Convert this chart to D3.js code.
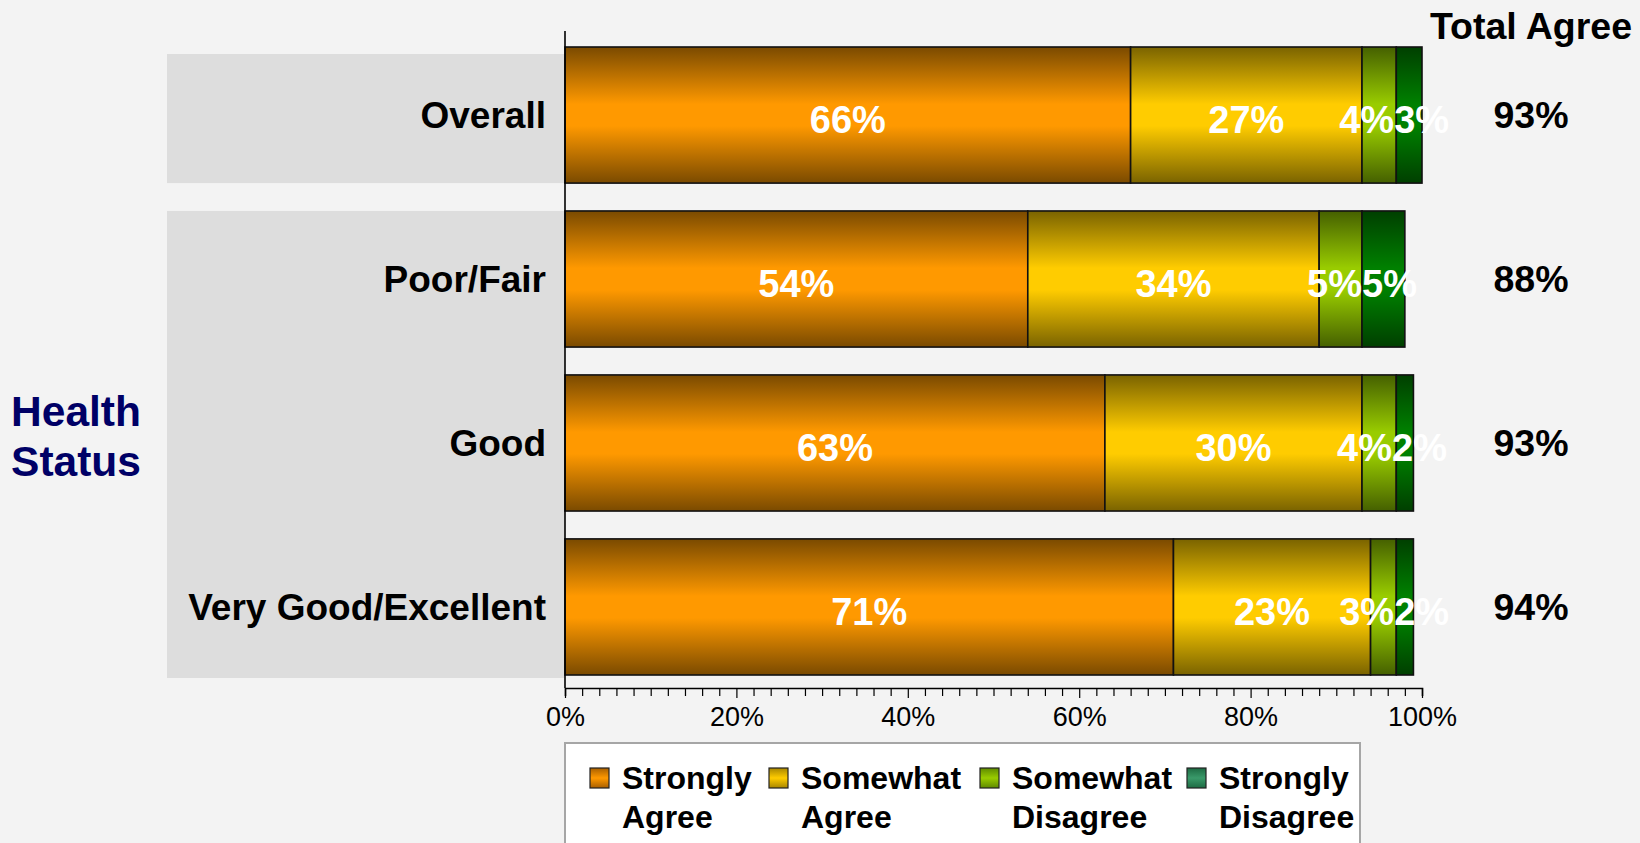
<!DOCTYPE html>
<html>
<head>
<meta charset="utf-8">
<script src="https://cdn.jsdelivr.net/npm/d3@7/dist/d3.min.js"></script>
<style>
  html, body { margin: 0; padding: 0; background: #f3f3f3; }
  svg { display: block; font-family: "Liberation Sans", Arial, sans-serif; }
</style>
</head>
<body>
<svg id="chart" width="1640" height="843"></svg>
<script>
// Agreement by self-reported health status
const categories = ["Overall", "Poor/Fair", "Good", "Very Good/Excellent"];
const seriesNames = ["Strongly Agree", "Somewhat Agree", "Somewhat Disagree", "Strongly Disagree"];
const stronglyAgree = [66, 54, 63, 71];
const somewhatAgree = [27, 34, 30, 23];
const somewhatDisagree = [4, 5, 4, 3];
const stronglyDisagree = [3, 5, 2, 2];
const totalAgree = [93, 88, 93, 94];
const xTicks = [0, 20, 40, 60, 80, 100];
const groupTitle = ["Health", "Status"];
const totalTitle = "Total Agree";
const legendLines = [["Strongly", "Agree"], ["Somewhat", "Agree"], ["Somewhat", "Disagree"], ["Strongly", "Disagree"]];
const healthGroup = ["Poor/Fair", "Good", "Very Good/Excellent"];

const rows = categories.map((c, i) => ({
  category: c,
  "Strongly Agree": stronglyAgree[i],
  "Somewhat Agree": somewhatAgree[i],
  "Somewhat Disagree": somewhatDisagree[i],
  "Strongly Disagree": stronglyDisagree[i],
  total: totalAgree[i]
}));

// bar shading: dark edges, bright middle
const palette = {
  "Strongly Agree":    { dark: "#7a4a00", mid: "#ff9900" },
  "Somewhat Agree":    { dark: "#7a6300", mid: "#ffcc00" },
  "Somewhat Disagree": { dark: "#456000", mid: "#99cc00" },
  "Strongly Disagree": { dark: "#003f00", mid: "#008000" }
};
const legendPalette = {
  "Strongly Agree":    { dark: "#a85f00", mid: "#ff9900" },
  "Somewhat Agree":    { dark: "#a88600", mid: "#ffcc00" },
  "Somewhat Disagree": { dark: "#5f8a00", mid: "#99cc00" },
  "Strongly Disagree": { dark: "#1d6b43", mid: "#3a9a6a" }
};

const svg = d3.select("#chart");
svg.append("rect").attr("width", 1640).attr("height", 843).attr("fill", "#f3f3f3");

const defs = svg.append("defs");
seriesNames.forEach((s, i) => {
  const g = defs.append("linearGradient").attr("id", "bar" + i)
    .attr("x1", 0).attr("y1", 0).attr("x2", 0).attr("y2", 1);
  g.append("stop").attr("offset", "0%").attr("stop-color", palette[s].dark);
  g.append("stop").attr("offset", "42%").attr("stop-color", palette[s].mid);
  g.append("stop").attr("offset", "58%").attr("stop-color", palette[s].mid);
  g.append("stop").attr("offset", "100%").attr("stop-color", palette[s].dark);
  const l = defs.append("linearGradient").attr("id", "leg" + i)
    .attr("x1", 0).attr("y1", 0).attr("x2", 0).attr("y2", 1);
  l.append("stop").attr("offset", "0%").attr("stop-color", legendPalette[s].dark);
  l.append("stop").attr("offset", "50%").attr("stop-color", legendPalette[s].mid);
  l.append("stop").attr("offset", "100%").attr("stop-color", legendPalette[s].dark);
});

const x = d3.scaleLinear().domain([0, 100]).range([565, 1422]);
const y = d3.scaleBand().domain(categories).range([47, 675]).paddingInner(0.17).paddingOuter(0);
const bw = y.bandwidth();

// grey label panels behind the category names
const panelLeft = 167;
svg.append("rect")
  .attr("x", panelLeft).attr("width", x(0) - panelLeft)
  .attr("y", y("Overall") + 7).attr("height", bw - 7)
  .attr("fill", "#dddddd");
svg.append("rect")
  .attr("x", panelLeft).attr("width", x(0) - panelLeft)
  .attr("y", y(healthGroup[0]))
  .attr("height", y(healthGroup[healthGroup.length - 1]) + bw + 3 - y(healthGroup[0]))
  .attr("fill", "#dddddd");

// stacked bars
const stacked = d3.stack().keys(seriesNames)(rows);
const layers = svg.append("g").selectAll("g").data(stacked).join("g")
  .attr("fill", (d, i) => `url(#bar${i})`);
layers.selectAll("rect").data(d => d).join("rect")
  .attr("x", d => x(d[0]))
  .attr("width", d => x(d[1]) - x(d[0]))
  .attr("y", d => y(d.data.category))
  .attr("height", bw)
  .attr("stroke", "#111")
  .attr("stroke-width", 1.6);

// value labels inside segments, nudged apart where neighbours collide
const labelG = svg.append("g");
categories.forEach((c, ri) => {
  const items = stacked.map(layer => {
    const d = layer[ri];
    return { v: d[1] - d[0], cx: x((d[0] + d[1]) / 2) };
  });
  const texts = items.map(it => labelG.append("text")
    .attr("text-anchor", "middle")
    .attr("x", it.cx)
    .attr("y", y(c) + bw / 2 + 5)
    .attr("dy", "0.35em")
    .attr("fill", "#ffffff")
    .attr("font-weight", "bold")
    .attr("font-size", 38)
    .text(it.v + "%"));
  items.forEach((it, i) => { it.w = texts[i].node().getComputedTextLength(); });
  for (let iter = 0; iter < 10; iter++) {
    for (let i = 0; i < items.length - 1; i++) {
      const a = items[i], b = items[i + 1];
      const overlap = (a.cx + a.w / 2) - (b.cx - b.w / 2);
      if (overlap > 0) { a.cx -= overlap / 2; b.cx += overlap / 2; }
    }
  }
  texts.forEach((t, i) => t.attr("x", items[i].cx));
});

// category names
svg.append("g").selectAll("text").data(categories).join("text")
  .attr("x", 546)
  .attr("y", d => y(d) + bw / 2)
  .attr("dy", "0.35em")
  .attr("text-anchor", "end")
  .attr("font-weight", "bold")
  .attr("font-size", 37)
  .attr("fill", "#000")
  .text(d => d);

// total agree column
svg.append("text")
  .attr("x", 1531).attr("y", 39)
  .attr("text-anchor", "middle")
  .attr("font-weight", "bold").attr("font-size", 37.5)
  .text(totalTitle);
svg.append("g").selectAll("text").data(rows).join("text")
  .attr("x", 1531)
  .attr("y", d => y(d.category) + bw / 2)
  .attr("dy", "0.35em")
  .attr("text-anchor", "middle")
  .attr("font-weight", "bold").attr("font-size", 37.5)
  .text(d => d.total + "%");

// group title
svg.append("text")
  .attr("x", 76).attr("y", 426)
  .attr("text-anchor", "middle")
  .attr("font-weight", "bold").attr("font-size", 42.5)
  .attr("fill", "#000066")
  .selectAll("tspan").data(groupTitle).join("tspan")
  .attr("x", 76).attr("dy", (d, i) => i === 0 ? 0 : 50)
  .text(d => d);

// axes
const axisY = 688;
svg.append("line")
  .attr("x1", x(0)).attr("x2", x(0)).attr("y1", 31).attr("y2", axisY)
  .attr("stroke", "#000").attr("stroke-width", 1.6);

const xAxis = d3.axisBottom(x)
  .tickValues(d3.range(0, 101, 2))
  .tickSizeOuter(0)
  .tickSize(8)
  .tickFormat(d => xTicks.includes(d) ? d + "%" : "");
const ax = svg.append("g").attr("transform", `translate(0,${axisY})`).call(xAxis);
ax.select(".domain").attr("stroke", "#000").attr("stroke-width", 1.6);
ax.selectAll(".tick line").attr("stroke", "#000").attr("stroke-width", 1.2)
  .attr("y2", d => xTicks.includes(d) ? 10 : 8);
ax.selectAll(".tick text")
  .attr("y", 38).attr("dy", 0)
  .attr("fill", "#000")
  .attr("font-size", 27)
  .attr("font-family", "\"Liberation Sans\", Arial, sans-serif");

// legend
const legend = svg.append("g");
legend.append("rect")
  .attr("x", 565).attr("y", 743).attr("width", 795).attr("height", 120)
  .attr("fill", "#ffffff").attr("stroke", "#a6a6a6").attr("stroke-width", 2);
const legendX = [590, 769, 980, 1187];
const items = legend.selectAll("g.item").data(seriesNames).join("g")
  .attr("class", "item")
  .attr("transform", (d, i) => `translate(${legendX[i]},0)`);
items.append("rect")
  .attr("x", 0).attr("y", 768).attr("width", 19).attr("height", 20)
  .attr("fill", (d, i) => `url(#leg${i})`)
  .attr("stroke", "#222").attr("stroke-width", 1.2);
items.append("text")
  .attr("font-weight", "bold").attr("font-size", 32).attr("fill", "#000")
  .selectAll("tspan").data((d, i) => legendLines[i]).join("tspan")
  .attr("x", 32)
  .attr("y", (d, j) => 789 + j * 39)
  .text(d => d);
</script>
</body>
</html>
